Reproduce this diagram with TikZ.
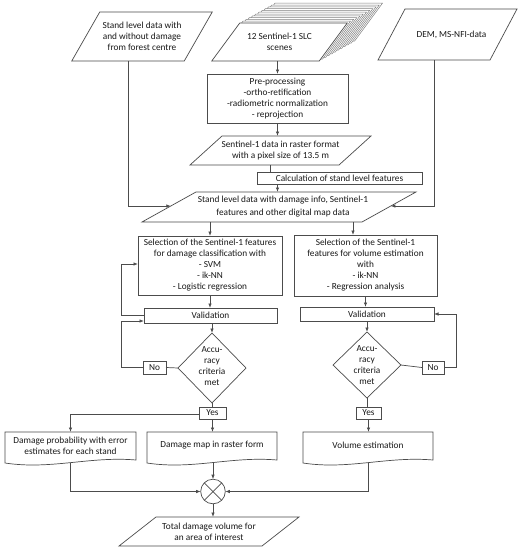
\documentclass[tikz,border=0pt]{standalone}
\usepackage{fontspec}
\setmainfont{Carlito}
\usetikzlibrary{calc,arrows.meta,shapes.geometric}
\newcommand\fs{\fontsize{9.3}{11}\selectfont}
\tikzset{
  ln/.style={draw=black!70, line width=0.7pt},
  arr/.style={ln, -{Latex[length=4.5pt,width=3.4pt]}},
  shp/.style={draw=black!70, line width=0.7pt, fill=white},
  sheet/.style={draw=black!50, line width=0.5pt, fill=white},
  box/.style={draw=black!70, line width=0.7pt, fill=white, inner sep=0.5pt, outer sep=0pt, align=center, text=black!90, font=\fs},
  txt/.style={inner sep=0.5pt, outer sep=0pt, align=center, text=black!90, font=\fs},
  dia/.style={diamond, draw=black!70, line width=0.7pt, inner sep=0pt, outer sep=0pt},
}
% name, cx, cy, w, h, slant, text
\newcommand\para[7]{%
  \draw[shp] ({#2-#4/2+#6/2},{#3-#5/2}) -- ({#2+#4/2+#6/2},{#3-#5/2}) -- ({#2+#4/2-#6/2},{#3+#5/2}) -- ({#2-#4/2-#6/2},{#3+#5/2}) -- cycle;
  \node[txt, minimum width=#4pt, minimum height=#5pt] (#1) at (#2,#3) {#7};
  \coordinate (#1-b) at ({#2-#6/2},{#3+#5/2});
}
% name, left, width, text
\newcommand\docn[4]{%
  \draw[shp] (#2,432) -- ({#2+#3},432) -- ({#2+#3},460) .. controls ({#2+0.65*#3},456) and ({#2+0.35*#3},470) .. (#2,463) -- cycle;
  \node[txt, minimum width=#3pt, minimum height=27pt] (#1) at ({#2+#3/2},445.5) {#4};
  \coordinate (#1-b) at ({#2+#3/2},462.6);
}
\begin{document}
\begin{tikzpicture}[x=1pt,y=-1pt]
\useasboundingbox[fill=white] (0,0) rectangle (522,550);

% inputs
\para{p1}{142}{36.5}{112.5}{49}{28}{Stand level data with\\and without damage\\from forest centre}
\foreach \k in {11,10,...,1}{
  \draw[sheet] ({239.75+3.2*\k},{23-1.8*\k}) -- ({347.25+3.2*\k},{23-1.8*\k}) -- ({319.25+3.2*\k},{61-1.8*\k}) -- ({211.75+3.2*\k},{61-1.8*\k}) -- cycle;
}
\para{sc}{279.5}{42}{107.5}{38}{28}{12 Sentinel-1 SLC\\scenes}
\para{dem}{447.5}{34.5}{112}{51}{27}{\hspace*{8pt}DEM, MS-NFI-data}

\node[box, minimum width=141pt, minimum height=49pt] (prep) at (277.5,98.5) {Pre-processing\\-ortho-retification\\-radiometric normalization\\- reprojection};
\para{rs}{280.5}{150.5}{149}{29}{32}{Sentinel-1 data in raster format\\with a pixel size of 13.5 m}
\node[box, minimum width=165pt, minimum height=12pt, inner ysep=0pt] (calc) at (339.5,178) {Calculation of stand level features};
\para{bg}{279}{207}{220}{30}{54}{\hspace*{8pt}Stand level data with damage info, Sentinel-1\\[2pt]\hspace*{8pt}features and other digital map data}
\coordinate (bgL) at (170.8,206);
\coordinate (bgR) at (390.8,206);

% left branch
\node[box, minimum width=144pt, minimum height=59pt] (sel1) at (210,265.5) {Selection of the Sentinel-1 features\\for damage classification with\\- SVM\\- ik-NN\\- Logistic regression};
\node[box, minimum width=133pt, minimum height=15pt] (val1) at (210.5,315.5) {Validation};
\node[dia, minimum width=68pt, minimum height=70pt] (d1) at (212,368) {};
\node[txt] at (212,366) {Accu-\\racy\\criteria\\met};
\node[box, minimum width=23pt, minimum height=13pt] (no1) at (154.5,367.5) {No};
\node[box, minimum width=27pt, minimum height=12pt] (yes1) at (212.5,413) {Yes};

% right branch
\node[box, minimum width=143pt, minimum height=61pt] (sel2) at (365.5,265.5) {Selection of the Sentinel-1\\features for volume estimation\\with\\- ik-NN\\- Regression analysis};
\node[box, minimum width=134pt, minimum height=14pt] (val2) at (367,314) {Validation};
\node[dia, minimum width=68pt, minimum height=66pt] (d2) at (367,365) {};
\node[txt] at (367,365) {Accu-\\racy\\criteria\\met};
\node[box, minimum width=22pt, minimum height=13pt] (no2) at (433,367.5) {No};
\node[box, minimum width=25pt, minimum height=12pt] (yes2) at (368.5,413) {Yes};

% outputs
\docn{dprob}{5}{131}{Damage probability with error\\estimates for each stand}
\docn{dmap}{147}{130}{Damage map in raster form}
\docn{vol}{303}{130}{Volume estimation}
\node[circle, draw=black!70, line width=0.7pt, minimum size=24.6pt, inner sep=0pt, outer sep=0pt] (cx) at (213,491.5) {};
\draw[ln] (cx.north west) -- (cx.south east);
\draw[ln] (cx.north east) -- (cx.south west);
\para{fn}{209}{531.5}{143}{29}{37}{Total damage volume for\\an area of interest}

% connectors
\draw[arr] (p1-b) |- (bgL);
\draw[arr] (dem-b) |- (bgR);
\draw[arr] (prep.north |- sc.south) -- (prep.north);
\draw[arr] (prep.south) -- (prep.south |- rs.north);
\coordinate (rc) at (270,165);
\draw[ln] (rc) -- (rc |- calc.north);
\draw[arr] (prep.south |- calc.south) -- (prep.south |- bg.north);
\draw[arr] (sel1.north |- bg.south) -- (sel1.north);
\coordinate (b2) at (353,222);
\draw[arr] (b2) -- (b2 |- sel2.north);

\draw[arr] (sel1.south) -- (sel1.south |- val1.north);
\draw[arr] (val1.west) -- ++(-23,0) |- ($(sel1.west)+(0,-1.5)$);
\draw[arr] (d1.north |- val1.south) -- (d1.north);
\draw[ln] (d1.west) -- (no1.east);
\draw[arr] (no1.west) -- ++(-22,0) |- ($(val1.south west)+(0,-2)$);
\draw[ln] (d1.south) -- (d1.south |- yes1.north);
\draw[arr] (yes1.south) -- (yes1.south |- dmap.north);
\draw[arr] ($(yes1.west)+(0,1.5)$) -| (dprob.north);

\draw[arr] (sel2.south) -- (sel2.south |- val2.north);
\draw[arr] (d2.north |- val2.south) -- (d2.north);
\draw[ln] (d2.east) -- (no2.west);
\draw[arr] (no2.east) -- ++(12,0) |- (val2.east);
\draw[ln] (d2.south) -- (d2.south |- yes2.north);
\draw[arr] (yes2.south) -- (yes2.south |- vol.north);

\draw[arr] (dprob-b) |- (cx.west);
\draw[arr] (cx.north |- dmap-b) -- (cx.north);
\draw[arr] (vol-b) |- (cx.east);
\draw[arr] (cx.south) -- (cx.south |- fn.north);
\end{tikzpicture}
\end{document}
